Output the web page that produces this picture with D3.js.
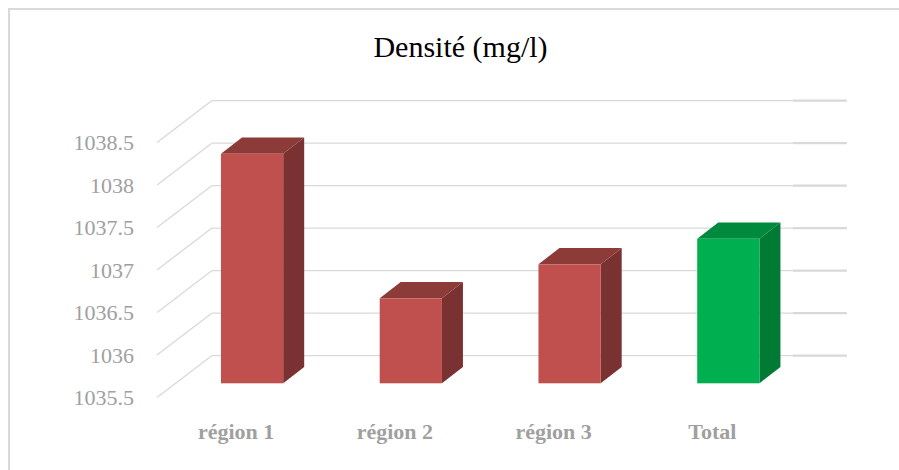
<!DOCTYPE html>
<html lang="fr">
<head>
  <meta charset="UTF-8">
  <title>Densité (mg/l)</title>
  <style>
    body { margin: 0; background: #fff; }
    svg { display: block; font-family: "Liberation Serif", "Times New Roman", serif; }
    .grid line { stroke: #d9d9d9; stroke-width: 1.3px; }
    .y-axis text { font-family: "Liberation Serif", "Times New Roman", serif; font-size: 22px; fill: #a0a0a0; }
    .x-axis text { font-family: "Liberation Serif", "Times New Roman", serif; font-size: 22px; font-weight: bold; fill: #a0a0a0; }
  </style>
</head>
<body>
  <svg id="chart" width="899" height="470"></svg>

  <script src="https://d3js.org/d3.v7.min.js"></script>
  <script>
    const categories = ['région 1', 'région 2', 'région 3', 'Total'];
    const values = [1038.2, 1036.5, 1036.9, 1037.2];
    const ticks = [1035.5, 1036, 1036.5, 1037, 1037.5, 1038, 1038.5];

    const svg = d3.select('#chart');

    // outer frame
    svg.append('rect')
      .attr('x', 9).attr('y', 9)
      .attr('width', 900).attr('height', 480)
      .attr('fill', 'none')
      .attr('stroke', '#d9d9d9')
      .attr('stroke-width', 2);

    // back wall
    const x = d3.scaleBand().domain(categories).range([211.7, 846.7]);
    const yBack = d3.scaleLinear().domain([1035.5, 1038.5]).range([355.7, 100.7]);

    // oblique offsets
    const wallDx = -54.7, wallDy = 41.7;   // back wall -> front edge of the floor
    const barDx = -39, barDy = 27.6;       // back wall -> bar front face
    const depthDx = 21, depthDy = -16.3;   // bar depth
    const barW = x.bandwidth() * 0.392;

    const grid = svg.append('g').attr('class', 'grid');
    grid.selectAll('line.h')
      .data(ticks)
      .enter().append('line')
      .attr('class', 'h')
      .attr('x1', x.range()[0])
      .attr('x2', x.range()[1])
      .attr('y1', d => yBack(d))
      .attr('y2', d => yBack(d));
    grid.selectAll('line.s')
      .data(ticks)
      .enter().append('line')
      .attr('class', 's')
      .attr('x1', 793)
      .attr('x2', x.range()[1])
      .attr('y1', d => yBack(d))
      .attr('y2', d => yBack(d))
      .style('stroke-width', '2.2px');
    grid.selectAll('line.d')
      .data(ticks)
      .enter().append('line')
      .attr('class', 'd')
      .attr('x1', x.range()[0])
      .attr('x2', x.range()[0] + wallDx)
      .attr('y1', d => yBack(d))
      .attr('y2', d => yBack(d) + wallDy);

    const colors = {
      red: { front: '#c0504d', side: '#7a3131', top: '#8d3b39' },
      green: { front: '#00b050', side: '#007a35', top: '#008a3d' }
    };

    const bars = svg.append('g')
      .selectAll('g')
      .data(categories.map((c, i) => ({ cat: c, value: values[i] })))
      .enter().append('g');

    bars.each(function(d) {
      const g = d3.select(this);
      const c = d.cat === 'Total' ? colors.green : colors.red;
      const x0 = x(d.cat) + x.bandwidth() / 2 + barDx - barW / 2;
      const x1 = x0 + barW;
      const yTop = yBack(d.value) + barDy;
      const yBot = yBack(1035.5) + barDy;
      g.append('polygon')
        .attr('fill', c.side)
        .attr('points', [[x1, yTop], [x1 + depthDx, yTop + depthDy],
          [x1 + depthDx, yBot + depthDy], [x1, yBot]].join(' '));
      g.append('polygon')
        .attr('fill', c.top)
        .attr('points', [[x0, yTop], [x0 + depthDx, yTop + depthDy],
          [x1 + depthDx, yTop + depthDy], [x1, yTop]].join(' '));
      g.append('rect')
        .attr('fill', c.front)
        .attr('x', x0).attr('y', yTop)
        .attr('width', barW).attr('height', yBot - yTop);
    });

    // value axis, at the front edge
    const yAxis = svg.append('g')
      .attr('class', 'y-axis')
      .attr('transform', `translate(134,${wallDy})`)
      .call(d3.axisLeft(yBack).tickValues(ticks).tickSize(0).tickPadding(0).tickFormat(d => String(d)))
      .attr('font-family', null).attr('font-size', null);
    yAxis.select('.domain').remove();
    yAxis.selectAll('text').attr('dy', '0.34em');

    // category axis
    const xAxis = svg.append('g')
      .attr('class', 'x-axis')
      .attr('transform', 'translate(-55,0)')
      .call(d3.axisBottom(x).tickSize(0).tickPadding(0))
      .attr('font-family', null).attr('font-size', null);
    xAxis.select('.domain').remove();
    xAxis.selectAll('text').attr('y', 438.5).attr('dy', null);

    svg.append('text')
      .attr('x', 460.5)
      .attr('y', 56.5)
      .attr('text-anchor', 'middle')
      .attr('font-size', 30)
      .attr('fill', '#000')
      .text('Densité (mg/l)');
  </script>
</body>
</html>
